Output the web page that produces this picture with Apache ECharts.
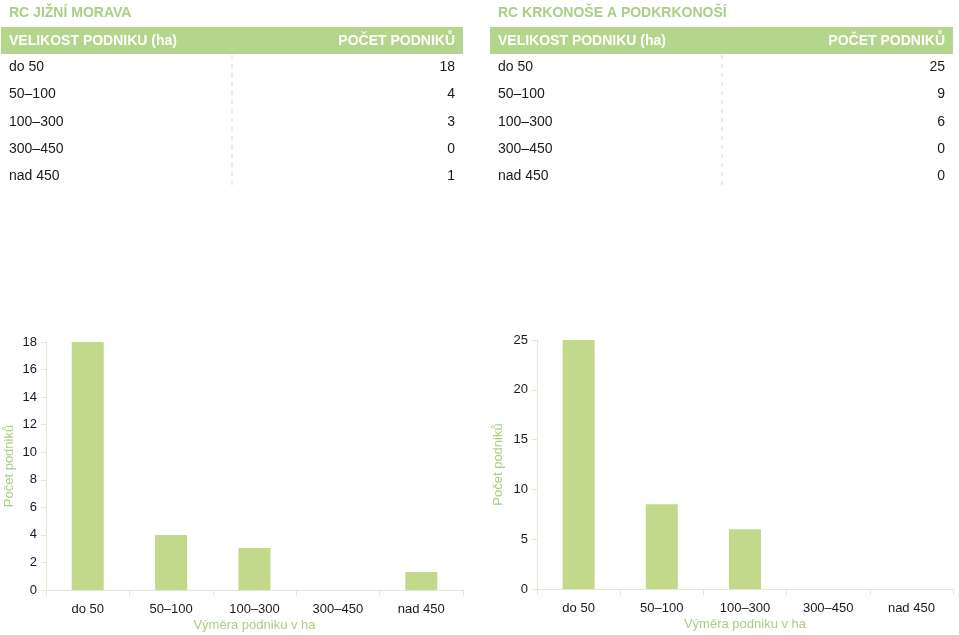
<!DOCTYPE html>
<html><head><meta charset="utf-8">
<script src="https://cdn.jsdelivr.net/npm/echarts@6/dist/echarts.min.js"></script>
<style>html,body{margin:0;padding:0;background:#fff}#c{width:959px;height:635px}</style>
</head><body><div id="c"></div>
<script>
// ---- data ----
const categories = ['do 50', '50–100', '100–300', '300–450', 'nad 450'];
const titleLeft = 'RC JIŽNÍ MORAVA';
const titleRight = 'RC KRKONOŠE A PODKRKONOŠÍ';
const headerSize = 'VELIKOST PODNIKU (ha)';
const headerCount = 'POČET PODNIKŮ';
const tableLeft = [18, 4, 3, 0, 1];
const tableRight = [25, 9, 6, 0, 0];
const barsLeft = [18, 4, 3.05, 0, 1.3];
const barsRight = [25, 8.5, 6, 0, 0];
const yNameText = 'Počet podniků';
const xNameText = 'Výměra podniku v ha';

const FONT = '"Liberation Sans", Arial, Helvetica, sans-serif';
const GREEN_T = '#a9cf84';
const GREEN_H = '#b4d58c';
const BAR = '#c2d98b';
const AXIS = '#e2e9d1';
const TXT = '#1a1a1a';

function table(x0, x1, title, vals, sepX) {
  const els = [];
  els.push({type:'text', x:x0+8, y:13.5, style:{text:title, font:'bold 14px '+FONT, fill:GREEN_T, verticalAlign:'middle'}});
  els.push({type:'rect', shape:{x:x0, y:27, width:x1-x0, height:27}, style:{fill:GREEN_H}});
  els.push({type:'text', x:x0+8, y:41, style:{text:headerSize, font:'bold 14px '+FONT, fill:'#fff', verticalAlign:'middle'}});
  els.push({type:'text', x:x1-8, y:41, style:{text:headerCount, font:'bold 14px '+FONT, fill:'#fff', align:'right', verticalAlign:'middle'}});
  const rowY = [67.5, 94, 122.5, 149, 176];
  categories.forEach((c, i) => {
    els.push({type:'text', x:x0+8, y:rowY[i], style:{text:c, font:'14px '+FONT, fill:TXT, verticalAlign:'middle'}});
    els.push({type:'text', x:x1-8, y:rowY[i], style:{text:String(vals[i]), font:'14px '+FONT, fill:TXT, align:'right', verticalAlign:'middle'}});
  });
  els.push({type:'line', shape:{x1:sepX, y1:55, x2:sepX, y2:190}, style:{stroke:'#d3d8cb', lineWidth:1, lineDash:[4,5]}});
  return els;
}

const chart = echarts.init(document.getElementById('c'), null, {renderer:'canvas'});
const yAxisCommon = {
  type:'value', splitLine:{show:false},
  axisLine:{show:true, lineStyle:{color:AXIS}},
  axisTick:{show:true, length:5, lineStyle:{color:AXIS}},
  axisLabel:{color:TXT, fontSize:13, fontFamily:FONT, margin:9},
  nameLocation:'middle', nameTextStyle:{color:GREEN_T, fontSize:13, fontFamily:FONT}
};
const xAxisCommon = {
  type:'category', data:categories,
  axisLine:{lineStyle:{color:AXIS}},
  axisTick:{show:true, length:6, lineStyle:{color:AXIS}},
  axisLabel:{color:TXT, fontSize:13, fontFamily:FONT, margin:13, interval:0},
  nameLocation:'middle', nameGap:29, nameTextStyle:{color:GREEN_T, fontSize:13, fontFamily:FONT}
};
chart.setOption({
  animation:false,
  grid:[
    {left:46, right:496, top:342, bottom:45, containLabel:false, outerBoundsMode:'none'},
    {left:537, right:6, top:340, bottom:46, containLabel:false, outerBoundsMode:'none'}
  ],
  xAxis:[
    Object.assign({}, xAxisCommon, {gridIndex:0, name:xNameText}),
    Object.assign({}, xAxisCommon, {gridIndex:1, name:xNameText})
  ],
  yAxis:[
    Object.assign({}, yAxisCommon, {gridIndex:0, min:0, max:18, interval:2, name:yNameText, nameGap:30}),
    Object.assign({}, yAxisCommon, {gridIndex:1, min:0, max:25, interval:5, name:yNameText, nameGap:32})
  ],
  series:[
    {type:'bar', xAxisIndex:0, yAxisIndex:0, data:barsLeft, barWidth:32, itemStyle:{color:BAR}},
    {type:'bar', xAxisIndex:1, yAxisIndex:1, data:barsRight, barWidth:32, itemStyle:{color:BAR}}
  ],
  graphic: table(1, 463, titleLeft, tableLeft, 232).concat(table(490, 953, titleRight, tableRight, 722))
});
</script></body></html>
